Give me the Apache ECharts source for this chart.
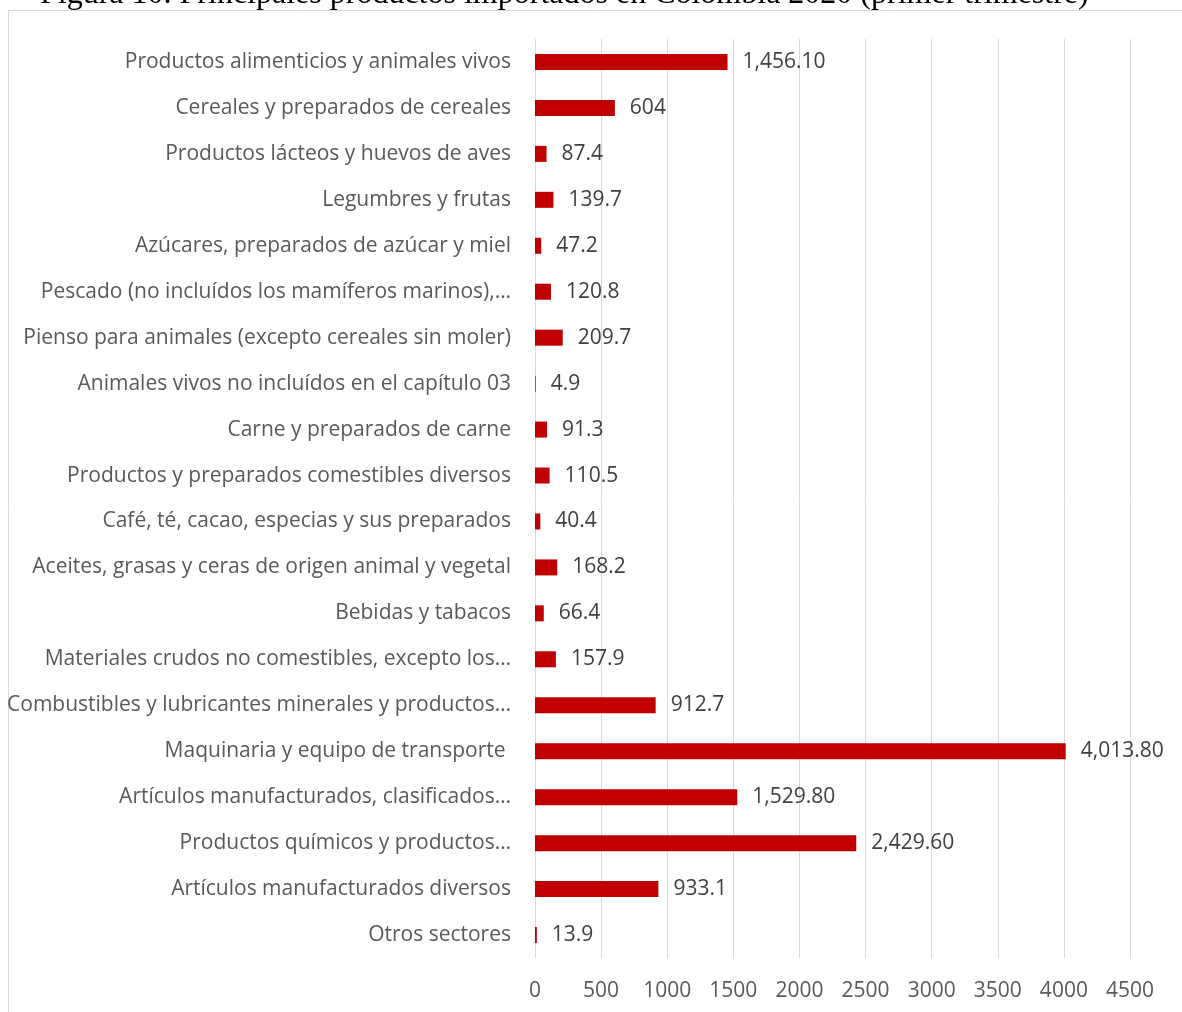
<!DOCTYPE html>
<html>
<head>
<meta charset="utf-8">
<script src="https://cdn.jsdelivr.net/npm/echarts@6/dist/echarts.min.js"></script>
<style>
  html, body { margin: 0; padding: 0; background: #fff; }
  #chart { width: 1182px; height: 1012px; }
</style>
</head>
<body>
<div id="chart"></div>
<script>
// 类别（自上而下）
const categories = [
  'Productos alimenticios y animales vivos',
  'Cereales y preparados de cereales',
  'Productos lácteos y huevos de aves',
  'Legumbres y frutas',
  'Azúcares, preparados de azúcar y miel',
  'Pescado (no incluídos los mamíferos marinos),…',
  'Pienso para animales (excepto cereales sin moler)',
  'Animales vivos no incluídos en el capítulo 03',
  'Carne y preparados de carne',
  'Productos y preparados comestibles diversos',
  'Café, té, cacao, especias y sus preparados',
  'Aceites, grasas y ceras de origen animal y vegetal',
  'Bebidas y tabacos',
  'Materiales crudos no comestibles, excepto los…',
  'Combustibles y lubricantes minerales y productos…',
  'Maquinaria y equipo de transporte ',
  'Artículos manufacturados, clasificados…',
  'Productos químicos y productos…',
  'Artículos manufacturados diversos',
  'Otros sectores'
];
const values = [1456.1, 604, 87.4, 139.7, 47.2, 120.8, 209.7, 4.9, 91.3, 110.5,
  40.4, 168.2, 66.4, 157.9, 912.7, 4013.8, 1529.8, 2429.6, 933.1, 13.9];
// 数据标签（保持原图格式）
const labelTexts = ['1,456.10', '604', '87.4', '139.7', '47.2', '120.8', '209.7', '4.9', '91.3', '110.5',
  '40.4', '168.2', '66.4', '157.9', '912.7', '4,013.80', '1,529.80', '2,429.60', '933.1', '13.9'];

const chart = echarts.init(document.getElementById('chart'));
const font = '"Open Sans", sans-serif';

chart.setOption({
  animation: false,
  backgroundColor: '#fff',
  graphic: [
    {
      type: 'rect',
      shape: {x: 8.5, y: 10.5, width: 1180, height: 1010},
      style: {fill: 'none', stroke: '#d9d9d9', lineWidth: 1},
      silent: true
    },
    {
      type: 'text',
      left: 40,
      top: -21,
      style: {
        text: 'Figura 10. Principales productos importados en Colombia 2020 (primer trimestre)',
        font: '32px "Liberation Serif", "Times New Roman", serif',
        fill: '#000'
      },
      silent: true
    }
  ],
  grid: {left: 535, right: 52, top: 39, bottom: 54, containLabel: false},
  xAxis: {
    type: 'value',
    min: 0,
    max: 4500,
    interval: 500,
    axisLine: {show: false},
    axisTick: {show: false},
    splitLine: {lineStyle: {color: '#d9d9d9', width: 1}},
    axisLabel: {color: '#595959', fontFamily: font, fontSize: 21, margin: 23, formatter: (v) => String(v)}
  },
  yAxis: {
    type: 'category',
    inverse: true,
    data: categories,
    axisLine: {show: false},
    axisTick: {show: false},
    axisLabel: {color: '#595959', fontFamily: font, fontSize: 21, margin: 24, padding: [4, 0, 0, 0]}
  },
  series: [{
    type: 'bar',
    data: values,
    barWidth: 16,
    itemStyle: {color: '#c00000'},
    label: {
      show: true,
      position: 'right',
      distance: 15,
      color: '#404040',
      fontFamily: font,
      fontSize: 21,
      padding: [4, 0, 0, 0],
      formatter: (p) => labelTexts[p.dataIndex]
    }
  }]
});
</script>
</body>
</html>
